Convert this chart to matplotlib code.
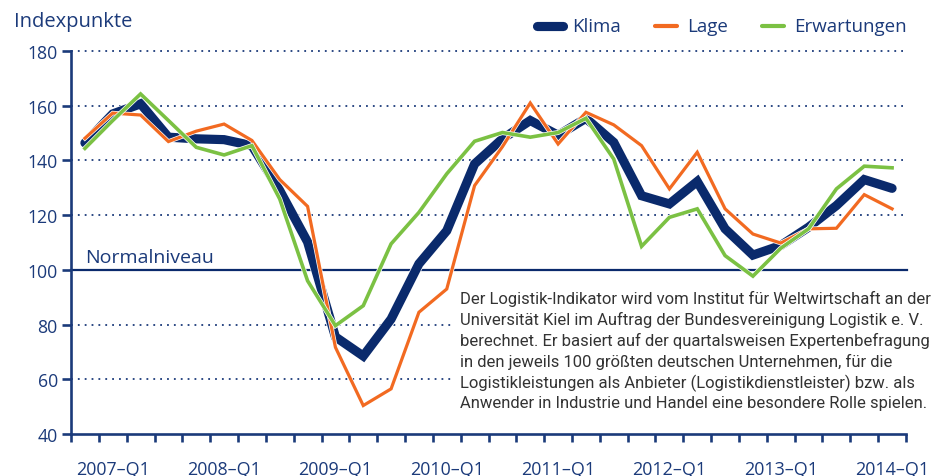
import matplotlib
matplotlib.use("Agg")
import matplotlib.pyplot as plt
import matplotlib.patheffects as pe
from matplotlib.lines import Line2D
from matplotlib.ticker import FixedLocator, FixedFormatter, NullFormatter

quarters = ['2006–Q4',
            '2007–Q1', '2007–Q2', '2007–Q3', '2007–Q4',
            '2008–Q1', '2008–Q2', '2008–Q3', '2008–Q4',
            '2009–Q1', '2009–Q2', '2009–Q3', '2009–Q4',
            '2010–Q1', '2010–Q2', '2010–Q3', '2010–Q4',
            '2011–Q1', '2011–Q2', '2011–Q3', '2011–Q4',
            '2012–Q1', '2012–Q2', '2012–Q3', '2012–Q4',
            '2013–Q1', '2013–Q2', '2013–Q3', '2013–Q4',
            '2014–Q1']
klima = [146.4, 157.0, 160.7, 148.5, 147.9, 147.6, 145.4, 129.0, 110.2, 75.5,
         68.5, 82.0, 102.2, 114.3, 138.7, 147.9, 154.6, 149.2, 155.4, 146.6,
         127.1, 124.1, 132.3, 115.0, 105.4, 108.9, 115.6, 123.5, 133.0, 129.8]
lage = [148.1, 157.3, 156.6, 146.9, 150.7, 153.3, 147.3, 133.0, 123.2, 71.7,
        50.4, 56.5, 84.5, 93.0, 130.8, 145.0, 161.0, 146.0, 157.6, 153.0,
        145.4, 129.6, 143.0, 122.3, 113.1, 109.8, 115.0, 115.2, 127.5, 122.3]
erwartungen = [144.4, 154.6, 164.3, 154.6, 144.8, 142.0, 145.4, 125.9, 96.0, 79.6,
               86.9, 109.5, 121.0, 135.1, 147.0, 150.2, 148.5, 150.2, 155.4, 140.5,
               108.6, 119.2, 122.3, 105.2, 97.7, 107.9, 115.0, 129.6, 137.9, 137.3]
yticks = [40, 60, 80, 100, 120, 140, 160, 180]
series_names = ['Klima', 'Lage', 'Erwartungen']
note = ("Der Logistik-Indikator wird vom Institut für Weltwirtschaft an der\n"
        "Universität Kiel im Auftrag der Bundesvereinigung Logistik e. V.\n"
        "berechnet. Er basiert auf der quartalsweisen Expertenbefragung\n"
        "in den jeweils 100 größten deutschen Unternehmen, für die\n"
        "Logistikleistungen als Anbieter (Logistikdienstleister) bzw. als\n"
        "Anwender in Industrie und Handel eine besondere Rolle spielen.")

NAVY = '#1b3a7a'
DARK = '#0a2a6c'
ORANGE = '#f26a21'
GREEN = '#7bc143'
FONT = ['Open Sans', 'DejaVu Sans']
plt.rcParams['font.family'] = FONT

W, H = 935, 477
fig = plt.figure(figsize=(W / 100, H / 100), dpi=100)
ax = fig.add_axes([71 / W, 1 - 435 / H, (906 - 71) / W, (435 - 52) / H])

n = len(quarters)
x = list(range(n))
ax.set_xlim(-0.5, n - 0.5)
ax.set_ylim(40, 180)

# grid lines
for v in yticks[1:]:
    if v == 100:
        ax.plot([-0.5, n - 0.45], [v, v], color=DARK, lw=1.6, zorder=1, clip_on=False)
    else:
        ax.plot([-0.5, n - 0.45], [v, v], color=NAVY, lw=1.3,
                linestyle=(0, (1, 2.8)), zorder=1, clip_on=False)

halo = lambda w: [pe.withStroke(linewidth=w, foreground='white')]
ax.plot(x, klima, color=DARK, lw=6.6, solid_joinstyle='miter', solid_capstyle='round',
        zorder=3, path_effects=halo(7.6))
ax.plot(x, lage, color=ORANGE, lw=2.3, solid_joinstyle='miter', zorder=4,
        path_effects=halo(3.3))
ax.plot(x, erwartungen, color=GREEN, lw=2.6, solid_joinstyle='miter', zorder=5,
        path_effects=halo(3.6))

for s in ['top', 'right']:
    ax.spines[s].set_visible(False)
for s in ['left', 'bottom']:
    ax.spines[s].set_color(NAVY)
    ax.spines[s].set_linewidth(1.9)

ax.set_yticks(yticks)
ax.set_yticklabels([str(v) for v in yticks])
ax.tick_params(axis='y', length=6.5, width=1.9, color=NAVY, pad=3,
               labelsize=12.7, labelcolor=NAVY)

# quarter boundary ticks
ax.xaxis.set_major_locator(FixedLocator([i - 0.5 for i in range(n + 1)]))
ax.xaxis.set_major_formatter(NullFormatter())
lab_pos = [i for i in range(n) if quarters[i].endswith('Q1')]
ax.xaxis.set_minor_locator(FixedLocator(lab_pos))
ax.xaxis.set_minor_formatter(FixedFormatter([quarters[i] for i in lab_pos]))
ax.tick_params(axis='x', which='major', length=6, width=1.9, color=NAVY, direction='out')
ax.tick_params(axis='x', which='minor', length=0, pad=18.5, labelsize=12.9, labelcolor=NAVY)

ax.text(0.0, 101.5, 'Normalniveau', fontsize=14, color=NAVY, va='bottom', ha='left')

fig.text(14 / W, 1 - 22 / H, 'Indexpunkte', fontsize=14.5, color=NAVY, va='center', ha='left')

# legend
leg_items = [(537, 563, DARK, 6.6, series_names[0], 572),
             (655, 677, ORANGE, 3.0, series_names[1], 687),
             (762, 784, GREEN, 3.0, series_names[2], 794)]
ly = 1 - 27 / H
for x0, x1, c, lw, name, tx in leg_items:
    fig.add_artist(Line2D([x0 / W, x1 / W], [ly, ly], color=c, lw=lw,
                          solid_capstyle='round', transform=fig.transFigure))
    fig.text(tx / W, ly, name, fontsize=13.5, color=NAVY, va='center', ha='left')

fig.text(460 / W, 1 - 291 / H, note, fontsize=12.0, color='#333333', va='top', ha='left',
         linespacing=1.37, family=['Roboto', 'DejaVu Sans'],
         bbox=dict(facecolor='white', edgecolor='none', pad=4))

fig.savefig('out.png', dpi=100)
